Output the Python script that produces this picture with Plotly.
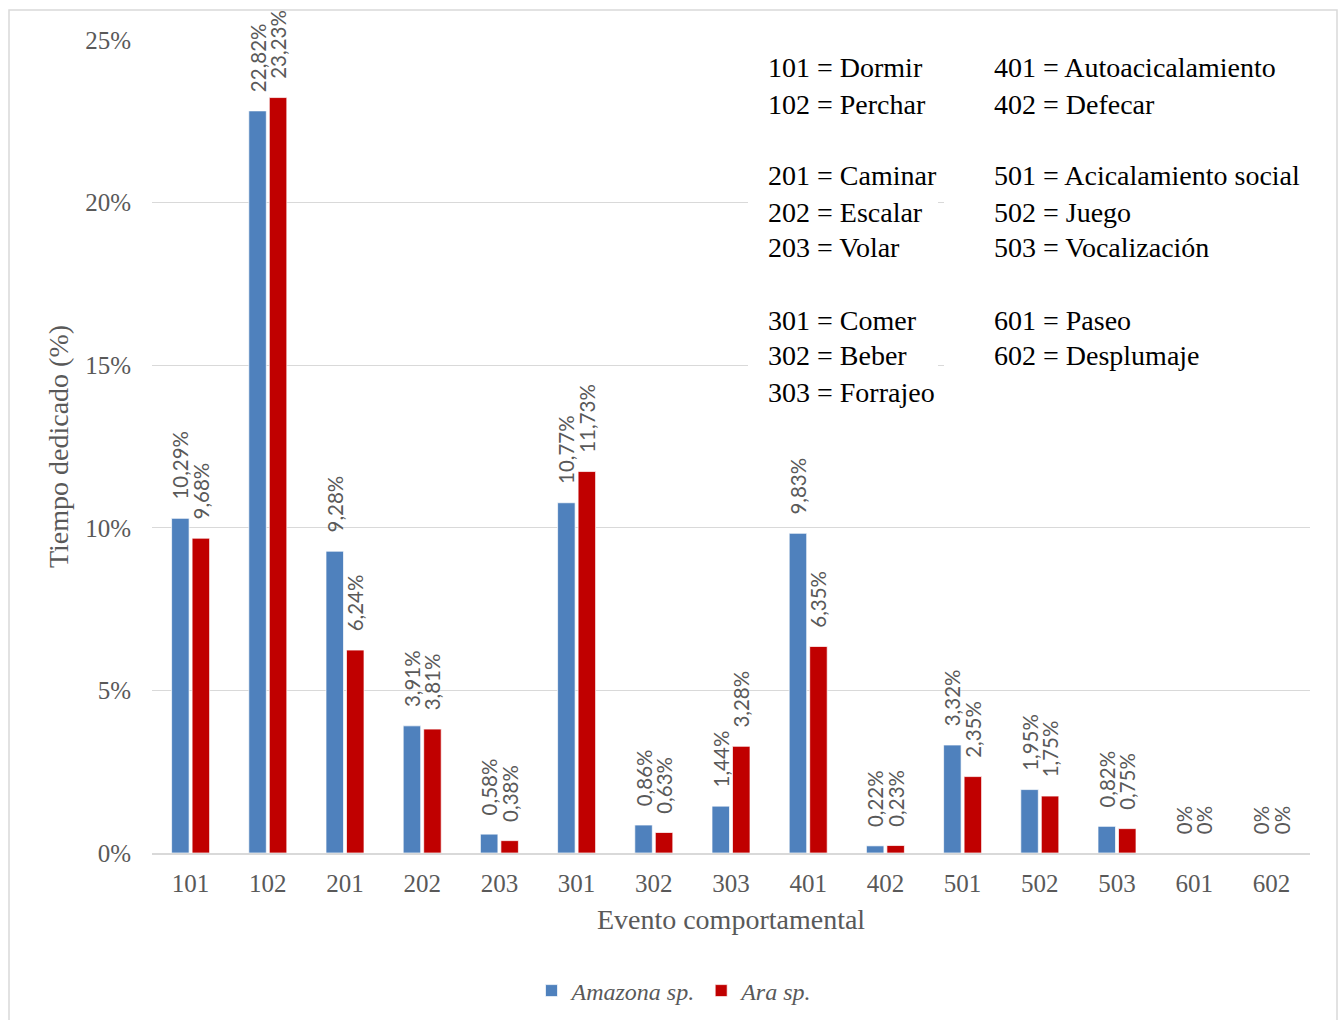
import plotly.graph_objects as go

categories = ["101", "102", "201", "202", "203", "301", "302", "303",
              "401", "402", "501", "502", "503", "601", "602"]
amazona = [10.29, 22.82, 9.28, 3.91, 0.58, 10.77, 0.86, 1.44,
           9.83, 0.22, 3.32, 1.95, 0.82, 0.0, 0.0]
ara = [9.68, 23.23, 6.24, 3.81, 0.38, 11.73, 0.63, 3.28,
       6.35, 0.23, 2.35, 1.75, 0.75, 0.0, 0.0]
y_ticks = [0, 0.05, 0.10, 0.15, 0.20, 0.25]

legend_left = ["101 = Dormir", "102 = Perchar", "201 = Caminar", "202 = Escalar",
               "203 = Volar", "301 = Comer", "302 = Beber", "303 = Forrajeo"]
legend_right = ["401 = Autoacicalamiento", "402 = Defecar", "501 = Acicalamiento social",
                "502 = Juego", "503 = Vocalización", "601 = Paseo", "602 = Desplumaje"]
left_rows = [0, 1, 3, 4, 5, 7, 8, 9]
right_rows = [0, 1, 3, 4, 5, 7, 8]

W, H = 1338, 1020
ML, MR, MT, MB = 152, 28, 40, 167
PW, PH = W - ML - MR, H - MT - MB


def px_x(p):
    return (p - ML) / PW


def px_y(p):
    return (H - MB - p) / PH


PAD = "\u00a0" * 3


def fmt(v):
    if v == 0:
        return PAD + "0%"
    return PAD + f"{v:.2f}".replace(".", ",") + "%"


label_font = dict(family="Lato", size=20.5, color="#595959")
serif = "Liberation Serif"

fig = go.Figure()
fig.add_trace(go.Bar(
    x=categories, y=[v / 100 for v in amazona], name="Amazona sp.",
    marker=dict(color="#4F81BD", line=dict(color="rgba(255,255,255,0.7)", width=1)),
    text=[fmt(v) for v in amazona], textposition="outside", textangle=-90,
    textfont=label_font, constraintext="none", cliponaxis=False,
))
fig.add_trace(go.Bar(
    x=categories, y=[v / 100 for v in ara], name="Ara sp.",
    marker=dict(color="#C00000", line=dict(color="rgba(255,255,255,0.7)", width=1)),
    text=[fmt(v) for v in ara], textposition="outside", textangle=-90,
    textfont=label_font, constraintext="none", cliponaxis=False,
))

shapes = [
    dict(type="rect", xref="paper", yref="paper",
         x0=px_x(9), x1=px_x(1337), y0=px_y(1030), y1=px_y(10),
         line=dict(color="#d9d9d9", width=1.5), fillcolor="rgba(0,0,0,0)", layer="below"),
    dict(type="rect", xref="paper", yref="paper",
         x0=px_x(748), x1=px_x(938), y0=px_y(415), y1=px_y(44),
         line=dict(width=0), fillcolor="white", layer="above"),
    dict(type="rect", xref="paper", yref="paper",
         x0=px_x(944), x1=px_x(1312), y0=px_y(415), y1=px_y(44),
         line=dict(width=0), fillcolor="white", layer="above"),
]

row_y = [68 + 36 * i for i in range(10)]
annotations = []
for txt, r in zip(legend_left, left_rows):
    annotations.append(dict(text=txt, xref="paper", yref="paper", x=px_x(766), y=px_y(row_y[r]),
                            xanchor="left", yanchor="middle", showarrow=False,
                            font=dict(family=serif, size=28, color="black")))
for txt, r in zip(legend_right, right_rows):
    annotations.append(dict(text=txt, xref="paper", yref="paper", x=px_x(992), y=px_y(row_y[r]),
                            xanchor="left", yanchor="middle", showarrow=False,
                            font=dict(family=serif, size=28, color="black")))

fig.update_layout(
    width=W, height=H,
    margin=dict(l=ML, r=MR, t=MT, b=MB, autoexpand=False),
    paper_bgcolor="white", plot_bgcolor="white",
    barmode="group", bargap=0.469, bargroupgap=0.146,
    showlegend=True,
    legend=dict(orientation="h", x=px_x(675), y=px_y(991), xanchor="center", yanchor="middle",
                font=dict(family=serif, size=24, color="#595959", style="italic"),
                bgcolor="rgba(0,0,0,0)"),
    shapes=shapes, annotations=annotations,
    xaxis=dict(type="category", showline=True, linecolor="#d9d9d9", linewidth=1.5,
               showgrid=False, ticks="", ticklabelstandoff=7,
               tickfont=dict(family=serif, size=25, color="#595959"),
               title=dict(text="Evento comportamental", standoff=14,
                          font=dict(family=serif, size=28, color="#595959"))),
    yaxis=dict(range=[0, 0.25], tickvals=y_ticks, tickformat=".0%",
               showgrid=True, gridcolor="#d9d9d9", gridwidth=1, zeroline=False,
               ticks="", ticklabelstandoff=20,
               tickfont=dict(family=serif, size=25, color="#595959"),
               title=dict(text="Tiempo dedicado (%)", standoff=8,
                          font=dict(family=serif, size=28, color="#595959"))),
)

fig.write_html("out.html")
